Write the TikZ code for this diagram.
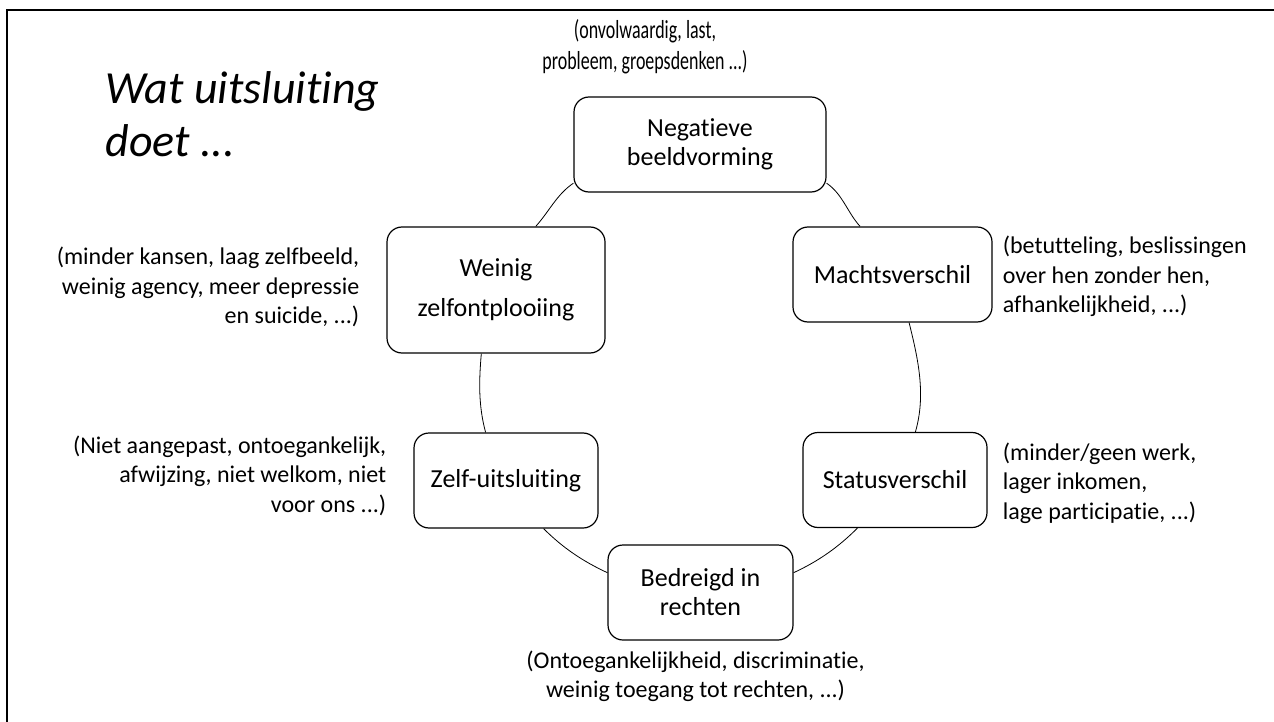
\documentclass[tikz,border=0pt]{standalone}
\usepackage{fontspec}
\setmainfont{Carlito}[Ligatures={NoCommon,NoRequired,NoContextual}]
\usetikzlibrary{positioning}

\tikzstyle{block} = [rectangle, draw, line width=1.2pt, align=center, rounded corners=15pt, minimum height=95pt, font=\fontsize{26}{29}\selectfont]
\tikzstyle{note} = [inner sep=0pt, font=\fontsize{24}{29.5}\selectfont]
\tikzstyle{line} = [draw, line width=0.8pt, looseness=0.9]

\begin{document}
\begin{tikzpicture}[x=1pt, y=1pt, node distance=10pt]
	\useasboundingbox (0,0) rectangle (1274,-722);
	\draw [line width=2.5pt] (7,-722) |- (1274,-10);

	\node [anchor=west, align=left, font=\fontsize{46}{53}\selectfont\itshape] (Title) at (102,-114) {Wat uitsluiting\\doet ...};

	\node [block, minimum width=252pt] (Negatief) at (700,-144.5) {Negatieve\\beeldvorming};
	\node [block, minimum width=199pt] (Macht) at (892.5,-274.5) {Machtsverschil};
	\node [block, minimum width=184pt] (Status) at (895,-480) {Statusverschil};
	\node [block, minimum width=185pt] (Bedreigd) at (700.5,-592.5) {Bedreigd in\\rechten};
	\node [block, minimum width=184pt] (Zelf) at (506,-480.5) {Zelf-uitsluiting};
	\node [block, minimum width=218pt, minimum height=126pt, font=\fontsize{26}{40}\selectfont] (Weinig) at (496,-290) {Weinig\\zelfontplooiing};

	\node [note, above=17pt of Negatief, xshift=-55pt, font=\fontsize{26}{31}\selectfont] (NegatiefNote) {\scalebox{0.69}[1]{\begin{tabular}{@{}c@{}}(onvolwaardig, last,\\probleem, groepsdenken ...)\end{tabular}}};
	\node [note, left=27pt of Weinig, yshift=3pt, align=right] (WeinigNote) {(minder kansen, laag zelfbeeld,\\weinig agency, meer depressie\\en suicide, ...)};
	\node [note, right=10pt of Macht, yshift=-2pt, align=left] (MachtNote) {(betutteling, beslissingen\\over hen zonder hen,\\afhankelijkheid, ...)};
	\node [note, right=15pt of Status, yshift=-3pt, align=left] (StatusNote) {(minder/geen werk,\\lager inkomen,\\lage participatie, ...)};
	\node [note, below=10pt of Bedreigd, xshift=-5pt, align=center] (BedreigdNote) {(Ontoegankelijkheid, discriminatie,\\weinig toegang tot rechten, ...)};
	\node [note, left=27pt of Zelf, yshift=5pt, align=right] (ZelfNote) {(Niet aangepast, ontoegankelijk,\\afwijzing, niet welkom, niet\\voor ons ...)};

	\path [line] (Negatief.197) to[out=214, in=48] (Weinig.58);
	\path [line] (Weinig.257) to[out=265, in=105] (Zelf.113);
	\path [line] (Zelf.308) to[out=315, in=155] (Bedreigd.168);
	\path [line] (Bedreigd.12) to[out=25, in=225] (Status.232);
	\path [line] (Status.67) to[out=74, in=284] (Macht.289);
	\path [line] (Macht.124) to[out=132, in=326] (Negatief.343);
\end{tikzpicture}
\end{document}
